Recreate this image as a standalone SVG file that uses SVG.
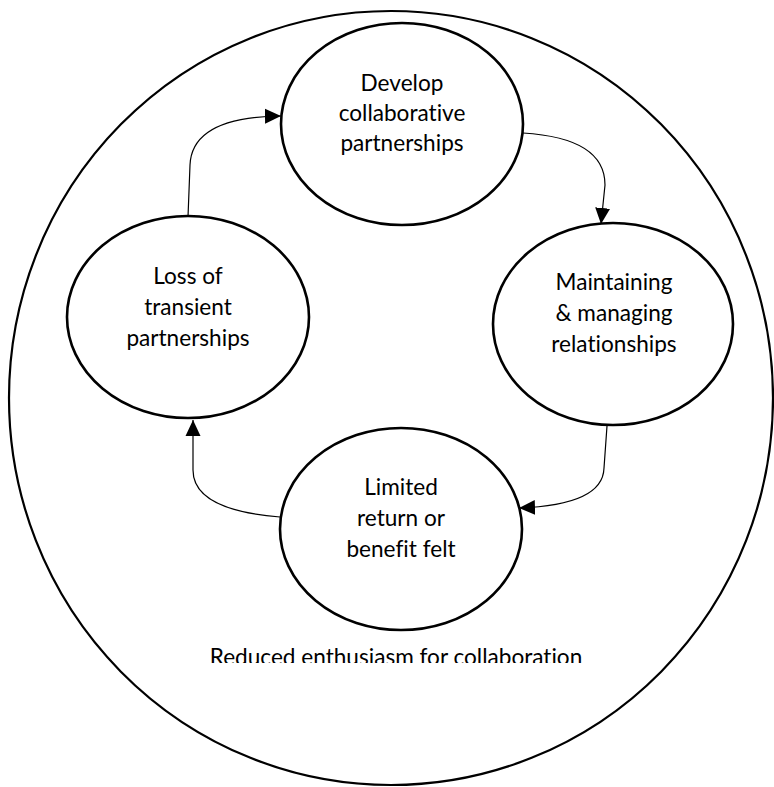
<svg xmlns="http://www.w3.org/2000/svg" width="774" height="787" viewBox="0 0 774 787">
<style>
.outer{fill:none;stroke:#000;stroke-width:2.2}
.node{fill:#fff;stroke:#000;stroke-width:2.6}
.lbl{font-family:Lato,"Open Sans","Liberation Sans",sans-serif;font-size:22.6px;fill:#000;text-anchor:middle;font-variant-ligatures:none}
.conn{fill:none;stroke:#000;stroke-width:1.2;marker-end:url(#arr)}
</style>
<defs>
<marker id="arr" markerUnits="userSpaceOnUse" markerWidth="17" markerHeight="17" viewBox="0 0 17 17" refX="16" refY="8.5" orient="auto">
<path d="M0,1 L16,8.5 L0,16 Z" fill="#000"/>
</marker>
<clipPath id="clipTxt"><rect x="0" y="630" width="774" height="33"/></clipPath>
</defs>
<g id="outer-circle">
<ellipse class="outer" cx="391" cy="398" rx="382" ry="387"/>
<text class="lbl" x="396" y="665" clip-path="url(#clipTxt)">Reduced enthusiasm for collaboration</text>
</g>
<g id="connectors">
<path class="conn" d="M188,217 L190,165 Q192,117 281,116"/>
<path class="conn" d="M523,133 Q605,138 605,185 L601,224"/>
<path class="conn" d="M607,426 L604,468 Q603,505 519,508"/>
<path class="conn" d="M280,517 Q193,510 193,470 L193,420"/>
</g>
<g id="node-develop">
<ellipse class="node" cx="402" cy="124" rx="121" ry="101"/>
<text class="lbl" x="402" y="91">Develop</text>
<text class="lbl" x="402" y="121">collaborative</text>
<text class="lbl" x="402" y="151">partnerships</text>
</g>
<g id="node-maintaining">
<ellipse class="node" cx="613" cy="324" rx="120" ry="101"/>
<text class="lbl" x="614" y="290">Maintaining</text>
<text class="lbl" x="614" y="321">&amp; managing</text>
<text class="lbl" x="614" y="352">relationships</text>
</g>
<g id="node-limited">
<ellipse class="node" cx="401" cy="529" rx="121" ry="101"/>
<text class="lbl" x="401" y="495">Limited</text>
<text class="lbl" x="401" y="526">return or</text>
<text class="lbl" x="401" y="557">benefit felt</text>
</g>
<g id="node-loss">
<ellipse class="node" cx="188" cy="317" rx="121" ry="101"/>
<text class="lbl" x="188" y="284">Loss of</text>
<text class="lbl" x="188" y="315">transient</text>
<text class="lbl" x="188" y="346">partnerships</text>
</g>
</svg>
